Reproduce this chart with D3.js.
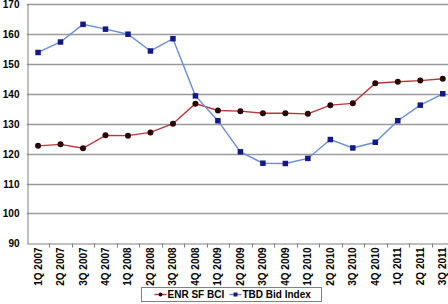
<!DOCTYPE html>
<html>
<head>
<meta charset="utf-8">
<script src="https://cdn.jsdelivr.net/npm/d3@7"></script>
<style>
  body { margin: 0; background: #fff; }
  svg text { font-family: "Liberation Sans", Arial, sans-serif; font-weight: bold; fill: #000; }
</style>
</head>
<body>
<div id="chart"></div>
<script>
// =============================================================
// DATA

let quarters = [ '1Q 2007', '2Q 2007', '3Q 2007', '4Q 2007',
                 '1Q 2008', '2Q 2008', '3Q 2008', '4Q 2008',
                 '1Q 2009', '2Q 2009', '3Q 2009', '4Q 2009',
                 '1Q 2010', '2Q 2010', '3Q 2010', '4Q 2010',
                 '1Q 2011', '2Q 2011', '3Q 2011' ];

let enr_bci = [ 122.6, 123.1, 121.8, 126.1, 126.0, 127.1, 130.0, 136.7,
                134.4, 134.2, 133.5, 133.5, 133.3, 136.2, 136.8, 143.5,
                144.0, 144.4, 145.0 ];

let tbd_bid = [ 153.8, 157.3, 163.2, 161.6, 159.9, 154.3, 158.4, 139.3,
                131.0, 120.6, 116.8, 116.7, 118.4, 124.7, 121.9, 123.8,
                131.0, 136.2, 140.0 ];

let y_ticks = [ 90, 100, 110, 120, 130, 140, 150, 160, 170 ];

let series = [
    { name: 'ENR SF BCI',    values: enr_bci, line: '#b8383a', mark: '#2a0505', shape: 'circle' },
    { name: 'TBD Bid Index', values: tbd_bid, line: '#6a8ed6', mark: '#14198a', shape: 'square' }
];

// =============================================================
// LAYOUT

let width = 448, height = 304;
let plot_left = 26.8, plot_right = 454;   // plot area runs past the right edge
let plot_top = 4, plot_bottom = 243.4;

let svg = d3.select('#chart')
            .append('svg')
            .attr('width', width)
            .attr('height', height);

let x_scale = d3.scaleBand()
                .domain( quarters )
                .range( [ plot_left, plot_right ] )
                .padding( 0 );

let y_scale = d3.scaleLinear()
                .domain( [ 90, 170 ] )
                .range( [ plot_bottom, plot_top ] );

// gridlines
svg.append('g')
   .selectAll('line')
   .data( y_ticks.filter(d => d > 90) )
   .enter()
   .append('line')
   .attr('x1', plot_left)
   .attr('x2', width)
   .attr('y1', d => Math.round(y_scale(d)) + 0.5)
   .attr('y2', d => Math.round(y_scale(d)) + 0.5)
   .attr('stroke', '#9a9a9a')
   .attr('stroke-width', 1.5);

// y axis
let y_axis = d3.axisLeft(y_scale)
               .tickValues( y_ticks )
               .tickSizeInner(0)
               .tickSizeOuter(0)
               .tickPadding(8);

svg.append('g')
   .attr('transform', 'translate(' + (Math.round(plot_left) + 0.5) + ',0)')
   .call(y_axis)
   .call(g => g.select('.domain').attr('stroke', '#808080'))
   .call(g => g.selectAll('text').attr('font-size', 10).attr('dy', '0.35em'));

// x axis
let x_axis = d3.axisBottom(x_scale)
               .tickSize(0)
               .tickSizeOuter(0)
               .tickFormat('');

let xg = svg.append('g')
            .attr('transform', 'translate(0,' + (Math.round(plot_bottom) + 0.5) + ')')
            .call(x_axis)
            .call(g => g.select('.domain').attr('stroke', '#808080'));

// tick marks between categories
xg.selectAll('.sep')
  .data( quarters.slice(1) )
  .enter()
  .append('line')
  .attr('x1', d => Math.round(x_scale(d)) + 0.5)
  .attr('x2', d => Math.round(x_scale(d)) + 0.5)
  .attr('y1', 0)
  .attr('y2', 4)
  .attr('stroke', '#808080');

// rotated category labels
svg.append('g')
   .selectAll('text')
   .data( quarters )
   .enter()
   .append('text')
   .text(d => d)
   .attr('font-size', 10)
   .attr('text-anchor', 'end')
   .attr('transform', d => 'translate(' + (x_scale(d) + x_scale.bandwidth() / 2 + 3.5) + ',' + (plot_bottom + 4) + ') rotate(-90)');

// =============================================================
// LINES + MARKERS

function drawMarker(g, shape, colour, size) {
    if (shape === 'circle') {
        g.append('circle').attr('r', size / 2).attr('fill', colour);
    } else {
        g.append('rect')
         .attr('x', -size / 2).attr('y', -size / 2)
         .attr('width', size).attr('height', size)
         .attr('fill', colour);
    }
}

let line = d3.line()
             .x((d, i) => x_scale(quarters[i]) + x_scale.bandwidth() / 2)
             .y(d => y_scale(d));

series.forEach(function (s) {
    svg.append('path')
       .datum( s.values )
       .attr('d', line)
       .attr('fill', 'none')
       .attr('stroke', s.line)
       .attr('stroke-width', 1.4);

    svg.append('g')
       .selectAll('g')
       .data( s.values )
       .enter()
       .append('g')
       .attr('transform', (d, i) => 'translate(' + (x_scale(quarters[i]) + x_scale.bandwidth() / 2) + ',' + y_scale(d) + ')')
       .each(function () { drawMarker(d3.select(this), s.shape, s.mark, s.shape === 'circle' ? 6 : 5.5); });
});

// =============================================================
// LEGEND

let legend = svg.append('g').attr('transform', 'translate(141.5,287.5)');

legend.append('rect')
      .attr('width', 180)
      .attr('height', 14)
      .attr('fill', '#fff')
      .attr('stroke', '#808080');

let legend_x = [ 13, 88 ];

series.forEach(function (s, i) {
    let item = legend.append('g').attr('transform', 'translate(' + legend_x[i] + ',7)');
    item.append('line')
        .attr('x1', 0).attr('x2', 12)
        .attr('stroke', s.line)
        .attr('stroke-width', 1.4);
    let m = item.append('g').attr('transform', 'translate(6,0)');
    drawMarker(m, s.shape, s.mark, 4);
    item.append('text')
        .text(s.name)
        .attr('x', 13)
        .attr('dy', '0.35em')
        .attr('font-size', 10);
});
</script>
</body>
</html>
